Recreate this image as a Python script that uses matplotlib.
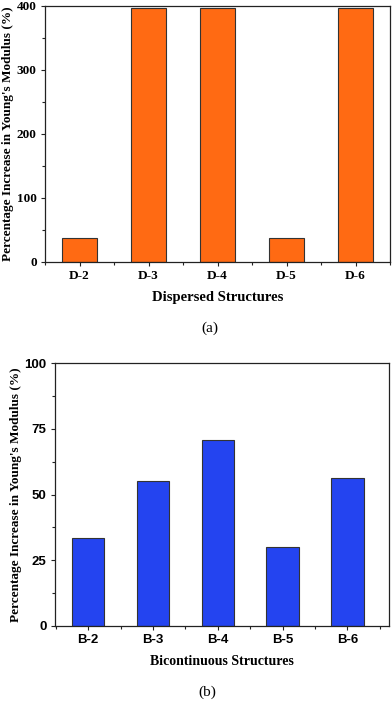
import matplotlib
matplotlib.use("Agg")
import matplotlib.pyplot as plt
from matplotlib.ticker import MultipleLocator

dispersed = ["D-2", "D-3", "D-4", "D-5", "D-6"]
dispersed_vals = [37, 397, 397, 38, 397]

bicont = ["B-2", "B-3", "B-4", "B-5", "B-6"]
bicont_vals = [33.3, 55.3, 70.6, 30.1, 56.1]

ylabel = "Percentage Increase in Young's Modulus (%)"
serif = "Liberation Serif"
sans = "Liberation Sans"

fig = plt.figure(figsize=(3.92, 7.02), dpi=100)

def style(ax, tickfont):
    for s in ax.spines.values():
        s.set_color("#222222")
        s.set_linewidth(0.9)
    ax.tick_params(direction="out", length=3, width=0.8, color="#222222",
                   top=False, right=False, pad=3)
    ax.tick_params(which="minor", direction="out", length=2, width=0.8,
                   color="#222222", top=False, right=False)
    for lab in ax.get_xticklabels() + ax.get_yticklabels():
        lab.set_fontfamily(tickfont)
        lab.set_fontweight("bold")
        lab.set_fontsize(9.5)

# (a) dispersed
ax1 = fig.add_axes([45 / 392, 1 - 262 / 702, 345 / 392, 256 / 702])
x1 = range(1, len(dispersed) + 1)
ax1.bar(x1, dispersed_vals, width=0.5, color="#ff6a13", edgecolor="#333333",
        linewidth=0.8)
ax1.set_xlim(0.5, 5.5)
ax1.set_ylim(0, 400)
ax1.set_xticks(list(x1))
ax1.set_xticklabels(dispersed)
ax1.xaxis.set_minor_locator(MultipleLocator(1, offset=0.5))
ax1.yaxis.set_major_locator(MultipleLocator(100))
ax1.yaxis.set_minor_locator(MultipleLocator(50))
style(ax1, serif)
ax1.set_ylabel(ylabel, fontfamily=serif, fontweight="bold", fontsize=9.5,
               labelpad=2)
ax1.set_xlabel("Dispersed Structures", fontfamily=serif, fontweight="bold",
               fontsize=10.5, labelpad=6)
fig.text(210 / 392, 1 - 328 / 702, "(a)", ha="center", va="center",
         fontfamily=serif, fontsize=11)

# (b) bicontinuous
ax2 = fig.add_axes([55 / 392, 1 - 626 / 702, 334 / 392, 263 / 702])
x2 = range(1, len(bicont) + 1)
ax2.bar(x2, bicont_vals, width=0.5, color="#2444f0", edgecolor="#333333",
        linewidth=0.8)
ax2.set_xlim(0.49, 5.64)
ax2.set_ylim(0, 100)
ax2.set_xticks(list(x2))
ax2.set_xticklabels(bicont)
ax2.xaxis.set_minor_locator(MultipleLocator(1, offset=0.5))
ax2.yaxis.set_major_locator(MultipleLocator(25))
ax2.yaxis.set_minor_locator(MultipleLocator(12.5))
style(ax2, sans)
ax2.set_ylabel(ylabel, fontfamily=serif, fontweight="bold", fontsize=9.5,
               labelpad=2)
ax2.set_xlabel("Bicontinuous Structures", fontfamily=serif, fontweight="bold",
               fontsize=10, labelpad=6)
fig.text(207 / 392, 1 - 692 / 702, "(b)", ha="center", va="center",
         fontfamily=serif, fontsize=11)

fig.savefig("out.png", dpi=100)
